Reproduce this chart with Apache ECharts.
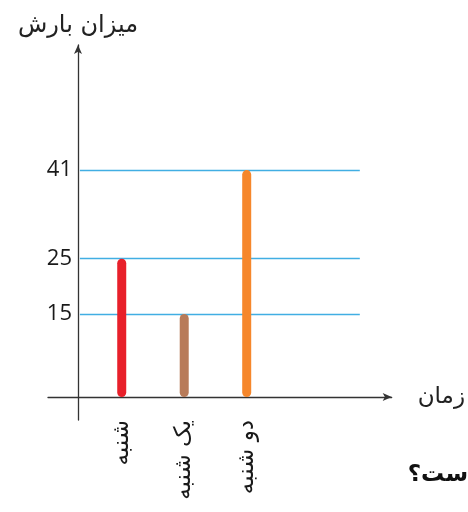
<!DOCTYPE html>
<html>
<head>
<meta charset="utf-8">
<script src="https://cdn.jsdelivr.net/npm/echarts@6/dist/echarts.min.js"></script>
<style>
html,body{margin:0;padding:0;background:#fff;}
#chart{width:468px;height:512px;}
</style>
</head>
<body>
<div id="chart"></div>
<script>
const categories = ['شنبه', 'یک شنبه', 'دو شنبه'];
const rainfall = [25, 15, 41];
const barColors = ['#e8202a', '#b87b59', '#f6872b'];
const yTicks = [15, 25, 41];
const yAxisName = 'میزان بارش';
const xAxisName = 'زمان';
const cutText = 'ست؟';

const chart = echarts.init(document.getElementById('chart'));
const arabicFont = 'DejaVu Sans';

chart.setOption({
  backgroundColor: '#ffffff',
  animation: false,
  grid: { left: 48, right: 76, top: 45, bottom: 92 },
  xAxis: {
    type: 'value',
    min: -1.18,
    max: 4.32,
    name: xAxisName,
    nameLocation: 'end',
    nameGap: 26,
    nameTextStyle: { fontSize: 23, color: '#222', fontFamily: arabicFont, padding: [0, 0, 10, 0] },
    axisLine: { show: true, onZero: true, symbol: ['none', 'arrow'], symbolSize: [6, 9], lineStyle: { color: '#333', width: 1.3 } },
    axisTick: { show: false },
    splitLine: { show: false },
    axisLabel: {
      customValues: [0, 1, 2],
      formatter: v => categories[Math.round(v)] || '',
      rotate: 90,
      margin: 0,
      fontSize: 23,
      color: '#1a1a1a',
      fontFamily: arabicFont
    }
  },
  yAxis: {
    type: 'value',
    min: -4.15,
    max: 63.6,
    offset: -30,
    name: yAxisName,
    nameLocation: 'end',
    nameGap: 7,
    nameTextStyle: { fontSize: 24, color: '#222', fontFamily: arabicFont },
    axisLine: { show: true, onZero: false, symbol: ['none', 'arrow'], symbolSize: [6, 9], lineStyle: { color: '#333', width: 1.3 } },
    axisTick: { show: false },
    splitLine: { show: false },
    axisLabel: {
      customValues: yTicks,
      margin: 6,
      fontSize: 22,
      color: '#1a1a1a',
      fontFamily: 'Open Sans'
    }
  },
  series: [{
    type: 'bar',
    z: 3,
    barWidth: 9,
    data: rainfall.map((v, i) => ({ value: [i, v], itemStyle: { color: barColors[i], borderRadius: 4.5 } })),
    markLine: {
      silent: true,
      z: 1,
      symbol: 'none',
      label: { show: false },
      lineStyle: { color: '#41aee3', width: 1.3, type: 'solid' },
      data: yTicks.map(v => [{ coord: [-0.67, v] }, { coord: [3.81, v] }])
    }
  }],
  graphic: [{
    type: 'text',
    right: 0,
    top: 464,
    style: { text: cutText, fontSize: 23, fontWeight: 'bold', fill: '#111', fontFamily: arabicFont }
  }]
});
</script>
</body>
</html>
